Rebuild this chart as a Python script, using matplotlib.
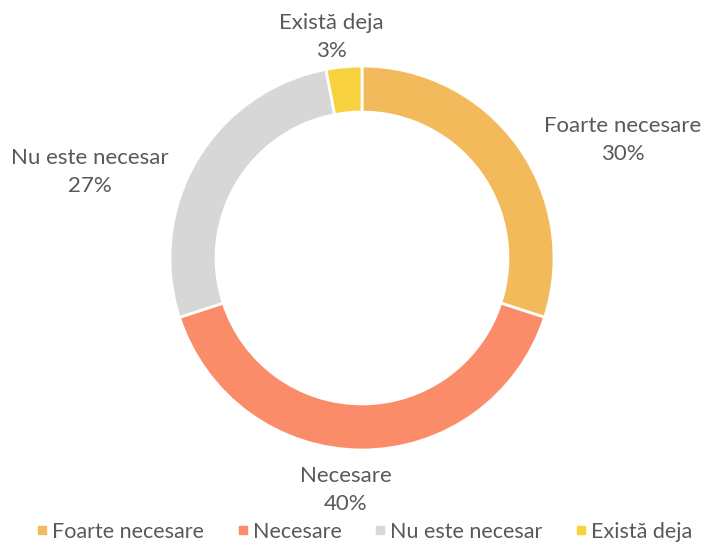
import matplotlib
matplotlib.use("Agg")
import matplotlib.pyplot as plt
from matplotlib.lines import Line2D

categories = ["Foarte necesare", "Necesare", "Nu este necesar", "Există deja"]
values = [30, 40, 27, 3]
labels_pct = ["30%", "40%", "27%", "3%"]
colors = ["#F3BA5C", "#FB8C6A", "#D7D7D7", "#F8D23E"]

plt.rcParams['font.family'] = ['Lato', 'DejaVu Sans']
text_color = "#595959"

fig = plt.figure(figsize=(7.06, 5.48), dpi=100)
ax = fig.add_axes([0, 0, 1, 1])

cx, cy, r = 362, 548 - 258, 192
ax.pie(values, colors=colors, startangle=90, counterclock=False,
       center=(cx, cy), radius=r, frame=True,
       wedgeprops=dict(width=r * 0.24, edgecolor='white', linewidth=2))
ax.set_xlim(0, 706)
ax.set_ylim(0, 548)
ax.set_aspect('equal')
ax.axis('off')

label_pos = [(623, 548 - 140), (346, 548 - 490), (90, 548 - 172), (331, 548 - 37)]
for cat, pct, (x, y) in zip(categories, labels_pct, label_pos):
    ax.text(x, y, f"{cat}\n{pct}", ha='center', va='center', fontsize=16,
            color=text_color, linespacing=1.45)

handles = [Line2D([0], [0], marker='s', linestyle='none', markersize=6,
                  markerfacecolor=c, markeredgecolor=c) for c in colors]
fig.legend(handles, categories, loc='center', bbox_to_anchor=(0.5 + 11 / 706, 1 - 532 / 548),
           ncol=4, frameon=False, fontsize=15.5, labelcolor=text_color,
           handletextpad=0.15, columnspacing=1.5, handlelength=0.6,
           borderaxespad=0, borderpad=0)

fig.savefig("out.png", dpi=100)
